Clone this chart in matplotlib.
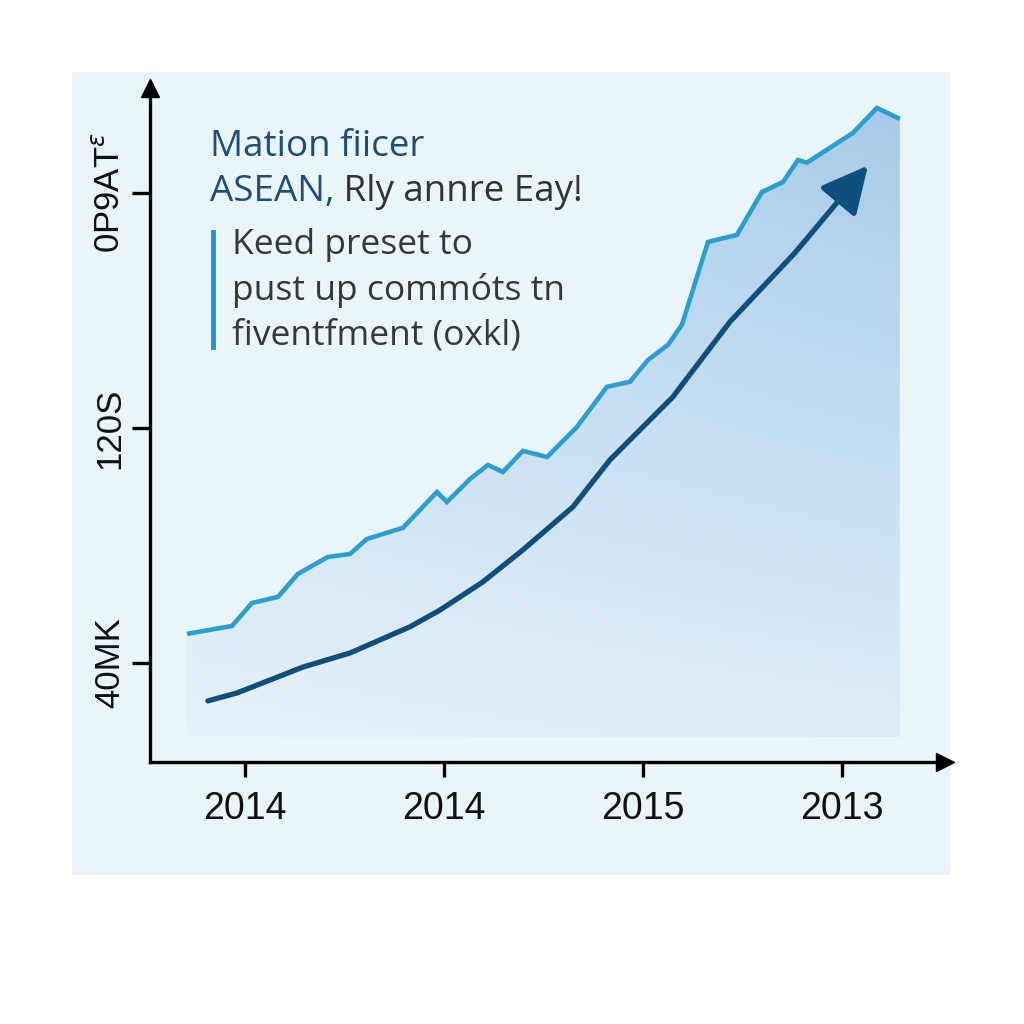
import numpy as np
import matplotlib
matplotlib.use("Agg")
import matplotlib.pyplot as plt
from matplotlib.patches import Rectangle, Polygon

# ---- data ----
upper_x = [0.709, 0.935, 1.035, 1.166, 1.266, 1.417, 1.528, 1.613, 1.794, 1.965, 2.015,
           2.131, 2.221, 2.296, 2.397, 2.518, 2.668, 2.819, 2.935, 3.025, 3.126, 3.196,
           3.327, 3.472, 3.598, 3.704, 3.779, 3.824, 4.055, 4.176, 4.291]
upper_y = [49.9, 52.6, 60.4, 62.5, 70.3, 76.1, 77.1, 82.2, 86.0, 98.2, 94.8,
           102.6, 107.4, 105.0, 112.2, 110.1, 120.3, 134.0, 135.7, 143.1, 148.3, 155.1,
           183.3, 185.7, 200.3, 203.7, 211.2, 210.3, 220.4, 228.9, 225.2]
trend_x = [0.814, 0.960, 1.126, 1.291, 1.528, 1.829, 1.980, 2.196, 2.397, 2.648,
           2.834, 3.151, 3.437, 3.764, 4.131]
trend_y = [27.1, 29.8, 34.2, 38.6, 43.4, 52.3, 58.0, 67.6, 78.5, 93.1,
           109.1, 130.6, 156.1, 179.6, 209.3]
fill_base = 14.8
x_ticks = [1, 2, 3, 4]
x_labels = ["2014", "2014", "2015", "2013"]
y_ticks = [40, 120, 200]
y_labels = ["40MK", "120S", "0P9AT$^{ε}$"]
title_line1 = "Mation fiicer"
title_line2a = "ASEAN,"
title_line2b = " Rly annre Eay!"
body_lines = ["Keed preset to", "pust up commóts tn", "fiventfment (oxkl)"]

tick_font = ["Liberation Sans Narrow", "Liberation Sans", "DejaVu Sans"]

# ---- figure ----
fig = plt.figure(figsize=(10.24, 10.24), dpi=100)
fig.patch.set_facecolor("white")
fig.patches.append(Rectangle((72 / 1024, 1 - 875 / 1024), 878 / 1024, 803 / 1024,
                             transform=fig.transFigure, facecolor="#e9f4fb",
                             edgecolor="none", zorder=-10))

ax = fig.add_axes([150 / 1024, 1 - 762 / 1024, 795 / 1024, 674 / 1024])
ax.set_zorder(2)
ax.set_facecolor("none")
ax.set_xlim(0.523, 4.518)
ax.set_ylim(6.3, 235.7)

# gradient fill under upper line
ux = np.array(upper_x)
uy = np.array(upper_y)
poly_pts = np.vstack([np.column_stack([ux, uy]),
                      [[ux[-1], fill_base], [ux[0], fill_base]]])
poly = Polygon(poly_pts, closed=True, facecolor="none", edgecolor="none")
ax.add_patch(poly)
gx = np.linspace(0, 1, 200)
gy = np.linspace(0, 1, 200)
GX, GY = np.meshgrid(gx, gy)
t = np.clip(0.6 * GY + 0.4 * GX * (0.3 + 0.7 * GY), 0, 1)
c0 = np.array([0xe6, 0xf1, 0xfa]) / 255
c1 = np.array([0xa6, 0xcb, 0xe9]) / 255
img = c0[None, None, :] * (1 - t[..., None]) + c1[None, None, :] * t[..., None]
im = ax.imshow(img, extent=[ux[0], ux[-1], fill_base, uy.max()], origin="lower",
               aspect="auto", zorder=1, interpolation="bilinear")
im.set_clip_path(poly)

ax.plot(upper_x, upper_y, color="#2b9fd2", lw=3.3, zorder=3,
        solid_joinstyle="miter", solid_capstyle="butt")
ax.plot(trend_x[:-1], trend_y[:-1], color="#0e4f7e", lw=3.8, zorder=4,
        solid_capstyle="round")
ax.annotate("", xy=(trend_x[-1], trend_y[-1]), xytext=(trend_x[-2], trend_y[-2]),
            arrowprops=dict(arrowstyle="-|>,head_length=1.1,head_width=0.55",
                            color="#0e4f7e", lw=3.8, mutation_scale=26,
                            shrinkA=0, shrinkB=0), zorder=5)

# axes styling
for s in ["top", "right"]:
    ax.spines[s].set_visible(False)
for s in ["left", "bottom"]:
    ax.spines[s].set_linewidth(2.4)
    ax.spines[s].set_color("black")
ax.plot(1, 0, marker=">", color="black", markersize=13, transform=ax.transAxes,
        clip_on=False, zorder=6)
ax.plot(0, 1, marker="^", color="black", markersize=13, transform=ax.transAxes,
        clip_on=False, zorder=6)

ax.set_xticks(x_ticks)
ax.set_xticklabels(x_labels, fontsize=27, family=tick_font, color="#111111")
ax.set_yticks(y_ticks)
ax.set_yticklabels(y_labels, fontsize=25, family=tick_font, color="#111111",
                   rotation=90, va="center")
ax.tick_params(axis="x", length=11, width=2.4, pad=10)
ax.tick_params(axis="y", length=13, width=2.4, pad=4)

# text block
fig.text(210 / 1024, 1 - 147 / 1024, title_line1, fontsize=26.5, color="#1d4f7a",
         family="Open Sans", va="center", ha="left")
t2 = fig.text(210 / 1024, 1 - 192 / 1024, title_line2a, fontsize=26.5, color="#1d4f7a",
              family="Open Sans", va="center", ha="left")
fig.canvas.draw()
bb = t2.get_window_extent()
fig.text(bb.x1 / 1024, 1 - 192 / 1024, title_line2b, fontsize=26.5, color="#333333",
         family="Open Sans", va="center", ha="left")
for i, line in enumerate(body_lines):
    fig.text(232 / 1024, 1 - (245 + 45 * i) / 1024, line, fontsize=25.5,
             color="#383838", family="Open Sans", va="center", ha="left")
fig.add_artist(plt.Line2D([213 / 1024, 213 / 1024], [1 - 232 / 1024, 1 - 347 / 1024],
                          transform=fig.transFigure, color="#2a92c6", lw=3.5))

fig.savefig("out.png", dpi=100)
